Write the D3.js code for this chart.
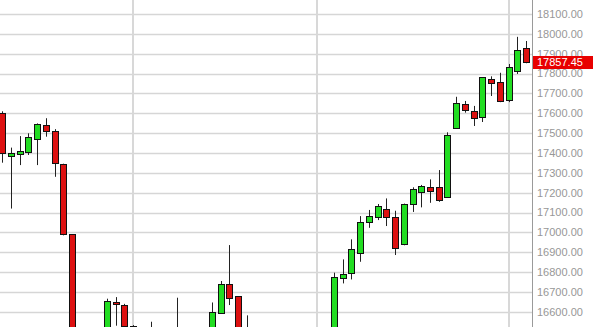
<!DOCTYPE html>
<html>
<head>
<script src="https://cdn.jsdelivr.net/npm/d3@7"></script>
<style type="text/css">
  body{
    margin: 0px;
    background: white;
  }
  svg{
    display: block;
  }
  .tickText{
    font-family: 'Liberation Sans', Arial, sans-serif;
    font-size: 11px;
    fill: #979797;
  }
  .lastText{
    font-family: 'Liberation Sans', Arial, sans-serif;
    font-size: 11px;
    fill: white;
  }
</style>
</head>
<body>

<div id="chart"></div>

<script>

var dates = ["2015-08-11","2015-08-12","2015-08-13","2015-08-14","2015-08-17","2015-08-18","2015-08-19","2015-08-20","2015-08-21","2015-08-24",
  "2015-08-25","2015-08-26","2015-08-27","2015-08-28","2015-08-31","2015-09-01","2015-09-02","2015-09-03","2015-09-04","2015-09-08",
  "2015-09-09","2015-09-10","2015-09-11","2015-09-14","2015-09-15","2015-09-16","2015-09-17","2015-09-18","2015-09-21","2015-09-22",
  "2015-09-23","2015-09-24","2015-09-25","2015-09-28","2015-09-29","2015-09-30","2015-10-01","2015-10-02","2015-10-05","2015-10-06",
  "2015-10-07","2015-10-08","2015-10-09","2015-10-12","2015-10-13","2015-10-14","2015-10-15","2015-10-16","2015-10-19","2015-10-20",
  "2015-10-21","2015-10-22","2015-10-23","2015-10-26","2015-10-27","2015-10-28","2015-10-29","2015-10-30","2015-11-02","2015-11-03",
  "2015-11-04"];

var open = [17600,17384,17396,17406,17469,17540,17513,17346,16990,16459,
  15874,15676,16300,16651,16632,16530,16084,16365,16367,16109,
  16509,16249,16320,16431,16383,16592,16738,16679,16392,16506,
  16328,16275,16202,16312,16000,16058,16278,16262,16478,16770,
  16797,16894,17051,17076,17118,17079,16940,17141,17205,17227,
  17227,17177,17524,17648,17611,17583,17771,17759,17665,17813,
  17929];

var high = [17610,17427,17485,17499,17549,17575,17520,17346,16990,16459,
  16312,16285,16666,16674,16640,16533,16351,16550,16367,16503,
  16671,16422,16434,16431,16647,16755,16936,16679,16582,16506,
  16424,16275,16488,16312,16154,16285,16317,16472,16797,16864,
  16965,17082,17113,17143,17171,17109,17145,17227,17239,17267,
  17314,17504,17683,17662,17637,17781,17786,17804,17848,17985,
  17964];

var low = [17351,17120,17339,17390,17339,17482,17280,16985,16459,15370,
  15651,15676,16300,16530,16445,15979,16057,16329,16026,16109,
  16233,16139,16244,16318,16383,16591,16634,16343,16392,16201,
  16240,16051,16202,15981,15942,16058,16013,15976,16478,16743,
  16763,16852,17023,17062,17032,16886,16935,17103,17126,17149,
  17154,17177,17524,17603,17536,17556,17687,17656,17656,17798,
  17852];

var close = [17402,17402,17408,17480,17545,17510,17348,16990,16459,15871,
  15666,16285,16654,16638,16528,16058,16351,16374,16102,16492,
  16253,16330,16433,16370,16600,16740,16671,16384,16510,16330,
  16279,16201,16314,16001,16049,16284,16272,16472,16777,16790,
  16915,17051,17084,17133,17079,16920,17143,17217,17234,17210,
  17163,17490,17650,17616,17578,17781,17754,17660,17831,17919,
  17857.45];

var priceTicks = [16600,16700,16800,16900,17000,17100,17200,17300,17400,17500,17600,17700,17800,17900,18000,18100];
var gridLevels = [16500,16600,16700,16800,16900,17000,17100,17200,17300,17400,17500,17600,17700,17800,17900,18000,18100,18200];
var lastPrice = 17857.45;

var width = 593;
var height = 327;
var axisX = 532;

var svg = d3.select("#chart").append("svg")
  .attr("width", width)
  .attr("height", height);

var x = d3.scaleBand()
  .domain(dates)
  .range([-2.1, 530.4])
  .padding(0);

var y = d3.scaleLinear()
  .domain([16600, 18100])
  .range([311.8, 14]);

var parseDate = d3.timeParse("%Y-%m-%d");

function cx(d) {
  return Math.round(x(d) + x.bandwidth() / 2);
}

var plot = svg.append("g");

plot.append("clipPath")
  .attr("id", "plotClip")
  .append("rect")
  .attr("x", 0)
  .attr("y", 0)
  .attr("width", axisX)
  .attr("height", height);

// horizontal grid
plot.selectAll(".hgrid")
  .data(gridLevels)
  .enter()
  .append("line")
  .attr("class", "hgrid")
  .attr("x1", 0)
  .attr("x2", axisX)
  .attr("y1", function(d) { return Math.round(y(d)) + 0.5; })
  .attr("y2", function(d) { return Math.round(y(d)) + 0.5; })
  .attr("stroke", "#d6d6d6")
  .attr("stroke-width", 1.4);

// month starts get a vertical line
var monthStarts = dates.filter(function(d, i) {
  if (i == 0) return false;
  return parseDate(d).getMonth() != parseDate(dates[i-1]).getMonth();
});

plot.selectAll(".vgrid")
  .data(monthStarts)
  .enter()
  .append("line")
  .attr("class", "vgrid")
  .attr("x1", function(d) { return cx(d); })
  .attr("x2", function(d) { return cx(d); })
  .attr("y1", 0)
  .attr("y2", height)
  .attr("stroke", "#d8d8d8")
  .attr("stroke-width", 2);

var candles = plot.append("g")
  .attr("clip-path", "url(#plotClip)");

var rows = dates.map(function(d, i) {
  return {date: d, o: open[i], h: high[i], l: low[i], c: close[i]};
});

candles.selectAll(".wick")
  .data(rows)
  .enter()
  .append("line")
  .attr("class", "wick")
  .attr("x1", function(d) { return cx(d.date) + 0.5; })
  .attr("x2", function(d) { return cx(d.date) + 0.5; })
  .attr("y1", function(d) { return y(d.h); })
  .attr("y2", function(d) { return y(d.l); })
  .attr("stroke", "#222")
  .attr("stroke-width", 1);

candles.selectAll(".body")
  .data(rows)
  .enter()
  .append("rect")
  .attr("class", "body")
  .attr("x", function(d) { return cx(d.date) - 2.5; })
  .attr("width", 6)
  .attr("y", function(d) { return Math.round(y(Math.max(d.o, d.c))) + 0.5; })
  .attr("height", function(d) { return Math.max(1, Math.round(y(Math.min(d.o, d.c))) - Math.round(y(Math.max(d.o, d.c)))); })
  .attr("fill", function(d) { return d.c >= d.o ? "#22dd22" : "#dd1111"; })
  .attr("stroke", "#111")
  .attr("stroke-width", 1);

// right price axis
svg.append("line")
  .attr("x1", axisX + 0.5)
  .attr("x2", axisX + 0.5)
  .attr("y1", 0)
  .attr("y2", height)
  .attr("stroke", "#9a9a9a")
  .attr("stroke-width", 1);

svg.selectAll(".tickText")
  .data(priceTicks)
  .enter()
  .append("text")
  .attr("class", "tickText")
  .attr("x", 537)
  .attr("y", function(d) { return y(d); })
  .attr("dy", "0.35em")
  .text(function(d) { return d3.format(".2f")(d); });

var lastY = y(lastPrice);

svg.append("rect")
  .attr("x", axisX + 1)
  .attr("y", Math.round(lastY) - 6)
  .attr("width", width - axisX - 1)
  .attr("height", 13)
  .attr("fill", "#e80000");

svg.append("text")
  .attr("class", "lastText")
  .attr("x", 537)
  .attr("y", lastY)
  .attr("dy", "0.37em")
  .text(d3.format(".2f")(lastPrice));

</script>

</body>
</html>
